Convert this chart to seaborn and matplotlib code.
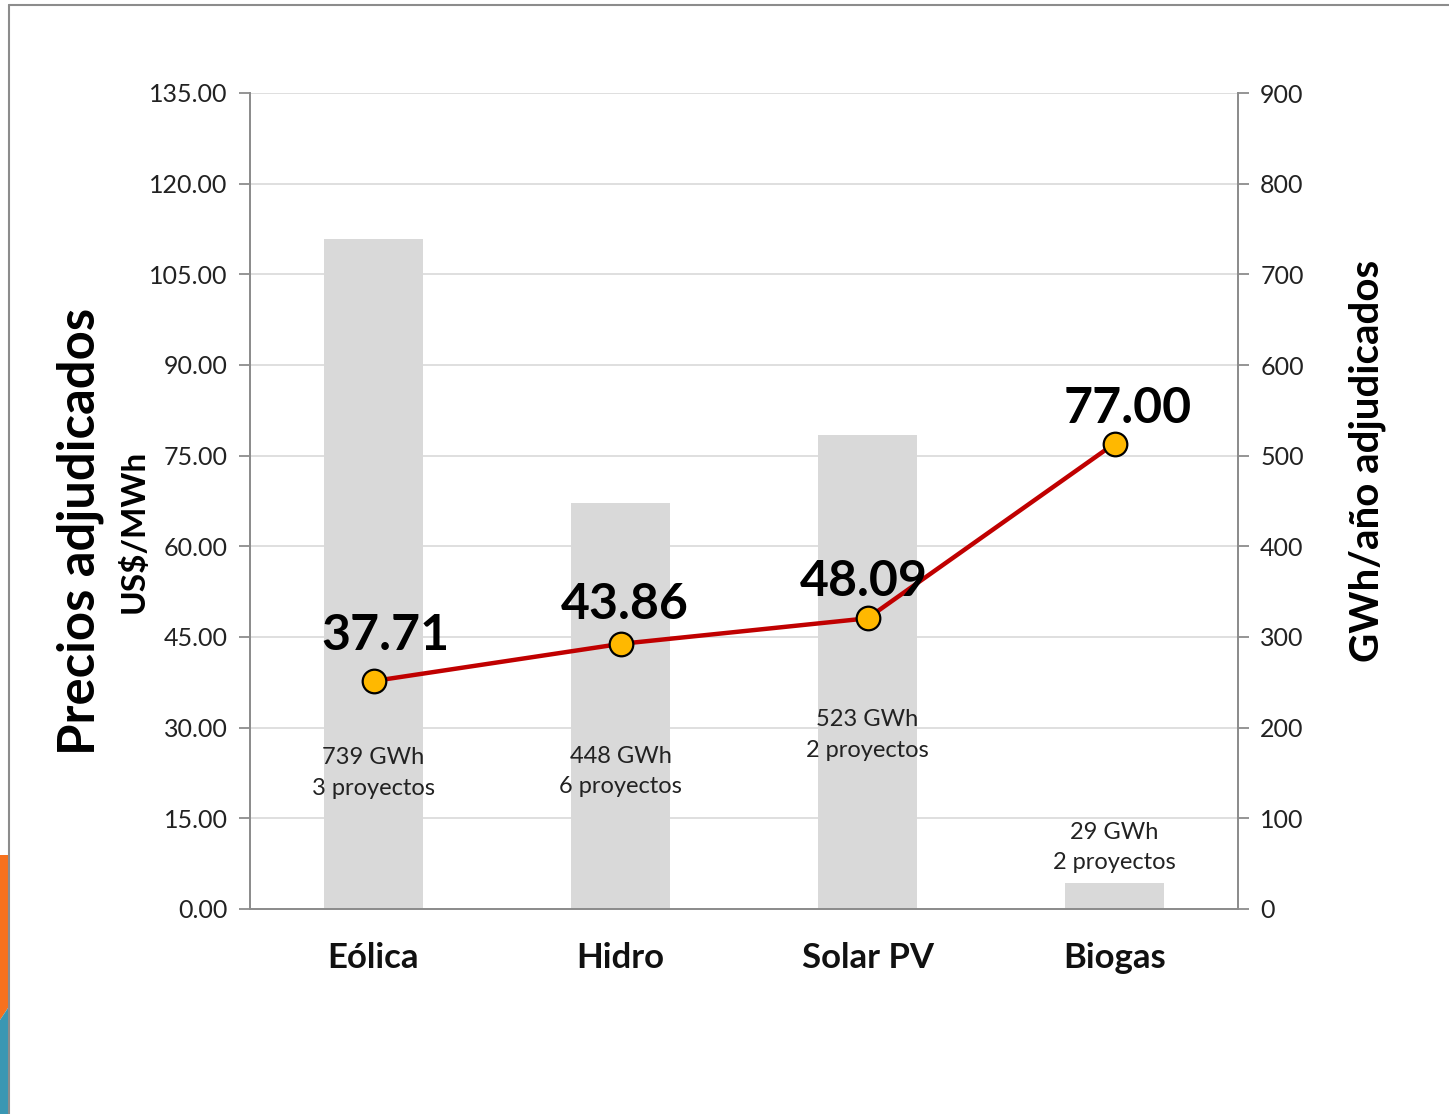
import matplotlib
matplotlib.use("Agg")
import matplotlib.pyplot as plt
from matplotlib.patches import Polygon
from matplotlib.lines import Line2D
import seaborn as sns
import pandas as pd

# Data
categories = ["Eólica", "Hidro", "Solar PV", "Biogas"]
energia_gwh = [739, 448, 523, 29]
precios = [37.71, 43.86, 48.09, 77.00]
proyectos = [3, 6, 2, 2]
price_ticks = [0, 15, 30, 45, 60, 75, 90, 105, 120, 135]
gwh_ticks = [0, 100, 200, 300, 400, 500, 600, 700, 800, 900]

# Heights (GWh axis) where the energy/project labels sit
label_heights = [150, 152, 192, 68]
# Pixel offsets of the price labels from their markers
price_label_offsets = [(12, 31), (4, 25), (-4, 22), (13, 21)]

sns.set_theme(style="white")
plt.rcParams["font.family"] = ["Lato", "DejaVu Sans"]

W, H = 1449, 1114
fig = plt.figure(figsize=(W / 100, H / 100), dpi=100)
fig.patch.set_facecolor("white")

# Slide frame and side accent
fig.add_artist(Line2D([9 / W, 1], [1 - 5 / H, 1 - 5 / H], color="#8c8c8c", lw=1.5))
fig.add_artist(Line2D([9 / W, 9 / W], [0, 1 - 5 / H], color="#8c8c8c", lw=1.5))
fig.add_artist(Polygon([(0, 1 - 855 / H), (8 / W, 1 - 855 / H), (8 / W, 1 - 1008 / H),
                        (0, 1 - 1020 / H)], closed=True, transform=fig.transFigure,
                       facecolor="#F7711E", edgecolor="none"))
fig.add_artist(Polygon([(0, 1 - 1020 / H), (8 / W, 1 - 1008 / H), (8 / W, 0), (0, 0)],
                       closed=True, transform=fig.transFigure,
                       facecolor="#3A97B3", edgecolor="none"))

ax_bar = fig.add_axes([250 / W, (H - 909) / H, 988 / W, 816 / H])
ax_line = ax_bar.twinx()

df = pd.DataFrame({"cat": categories, "gwh": energia_gwh, "precio": precios})

# Energy bars (right axis)
sns.barplot(data=df, x="cat", y="gwh", ax=ax_bar, color="#D9D9D9", width=0.4,
            saturation=1, edgecolor="none", zorder=2)
ax_bar.set_ylim(0, 900)
ax_bar.set_yticks(gwh_ticks)
ax_bar.yaxis.tick_right()
ax_bar.yaxis.set_label_position("right")

# Price line (left axis)
sns.pointplot(data=df, x="cat", y="precio", ax=ax_line, color="#C00000",
              markers="o", linewidth=3.2, markersize=17, errorbar=None, zorder=5)
for ln in ax_line.lines:
    ln.set_markerfacecolor("#FFB800")
    ln.set_markeredgecolor("black")
    ln.set_markeredgewidth(1.6)
    ln.set_clip_on(False)
ax_line.set_ylim(0, 135)
ax_line.set_yticks(price_ticks)
ax_line.yaxis.tick_left()
ax_line.yaxis.set_label_position("left")
ax_line.set_yticklabels([f"{v:.2f}" for v in price_ticks])
ax_line.set_xlim(-0.5, 3.5)
ax_bar.set_xlim(-0.5, 3.5)

# Horizontal gridlines
for v in gwh_ticks[1:]:
    ax_bar.axhline(v, color="#D9D9D9", lw=1.2, zorder=0)

# Spines
for a in (ax_bar, ax_line):
    a.spines["top"].set_visible(False)
    for s in ("left", "right", "bottom"):
        a.spines[s].set_color("#8c8c8c")
        a.spines[s].set_linewidth(1.3)
    a.set_xlabel("")
    a.set_ylabel("")
ax_bar.tick_params(axis="y", right=True, left=False, length=8, width=1.3,
                   color="#8c8c8c", labelsize=18, labelcolor="#222222", pad=8)
ax_line.tick_params(axis="y", left=True, right=False, length=8, width=1.3,
                    color="#8c8c8c", labelsize=18, labelcolor="#222222", pad=8)
ax_bar.tick_params(axis="x", bottom=False, pad=18)
ax_line.tick_params(axis="x", bottom=False, labelbottom=False)
ax_bar.set_xticks(range(len(categories)))
ax_bar.set_xticklabels(categories, fontsize=25, fontweight="bold", color="#111111")

# Price data labels
for i, (p, off) in enumerate(zip(precios, price_label_offsets)):
    ax_line.annotate(f"{p:.2f}", (i, p), xytext=off,
                     textcoords="offset pixels", ha="center", va="baseline",
                     fontsize=36, fontweight="bold", color="black", zorder=6)

# Energy / project labels
for i, (g, n, yl) in enumerate(zip(energia_gwh, proyectos, label_heights)):
    ax_bar.text(i, yl, f"{g} GWh\n{n} proyectos", ha="center", va="center",
                fontsize=17, color="#222222", linespacing=1.55, zorder=4)

# Axis titles
fig.text(80 / W, 1 - 531 / H, "Precios adjudicados", rotation=90, ha="center",
         va="center", fontsize=36.5, fontweight="bold", color="black")
fig.text(134 / W, 1 - 531 / H, "US$/MWh", rotation=90, ha="center", va="center",
         fontsize=24, fontweight="bold", color="black")
fig.text(1367 / W, 1 - 461 / H, "GWh/año adjudicados", rotation=90, ha="center",
         va="center", fontsize=29, fontweight="bold", color="black")

fig.savefig("out.png", dpi=100)
